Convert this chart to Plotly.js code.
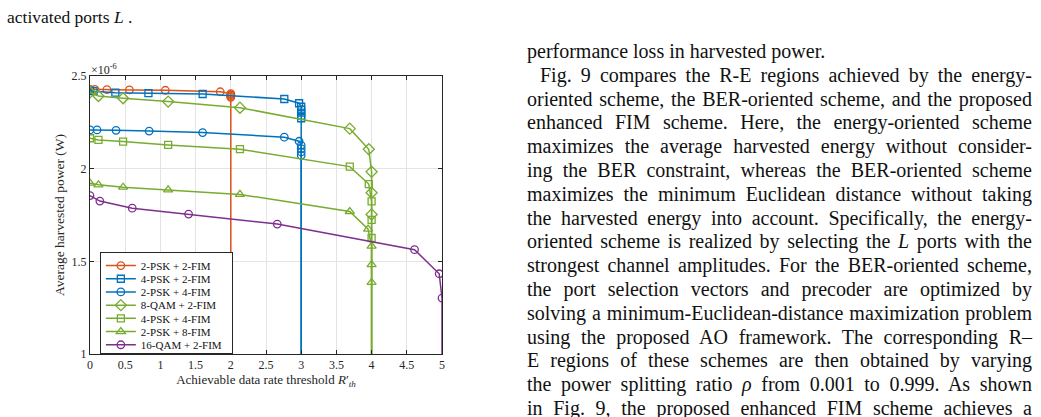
<!DOCTYPE html>
<html><head><meta charset="utf-8">
<script src="https://cdn.plot.ly/plotly-3.0.1.min.js"></script>
<style>
html,body{margin:0;padding:0;background:#fff;width:1041px;height:417px;overflow:hidden;}
#chart{position:absolute;left:0;top:0;width:1041px;height:417px;}
.t{position:absolute;font-family:"Liberation Serif","Times New Roman",serif;font-size:20px;color:#111;white-space:nowrap;line-height:23.8px;}
.c{font-size:17.5px;}
.j{text-align:justify;text-align-last:justify;}
</style></head><body>
<div id="chart"></div>
<div id="txt"></div>
<script>
// ---- data (harvested power in units of 1e-6 W) ----
const seriesNames = ['2-PSK + 2-FIM','4-PSK + 2-FIM','2-PSK + 4-FIM','8-QAM + 2-FIM','4-PSK + 4-FIM','2-PSK + 8-FIM','16-QAM + 2-FIM'];

const x_2psk2fim = [0, 0.07, 0.24, 0.56, 1.07, 1.85, 2.0, 2.0, 2.0, 2.0, 2.0, 2.0];
const y_2psk2fim = [2.428, 2.428, 2.426, 2.425, 2.423, 2.415, 2.405, 2.400, 2.395, 2.390, 2.385, 0];

const x_4psk2fim = [0, 0.05, 0.36, 0.83, 1.6, 2.76, 2.97, 3.0, 3.0, 3.0, 3.0, 3.0, 3.0];
const y_4psk2fim = [2.421, 2.418, 2.410, 2.408, 2.403, 2.376, 2.353, 2.334, 2.318, 2.302, 2.286, 2.272, 0];

const x_2psk4fim = [0, 0.1, 0.37, 0.84, 1.6, 2.76, 2.97, 3.0, 3.0, 3.0, 3.0, 3.0];
const y_2psk4fim = [2.209, 2.209, 2.207, 2.203, 2.195, 2.170, 2.148, 2.126, 2.108, 2.090, 2.072, 0];

const x_8qam2fim = [0, 0.12, 0.47, 1.11, 2.13, 3.69, 3.96, 4.0, 4.0, 4.0, 4.0];
const y_8qam2fim = [2.412, 2.392, 2.380, 2.362, 2.329, 2.216, 2.105, 1.983, 1.870, 1.753, 0];

const x_4psk4fim = [0, 0.12, 0.47, 1.11, 2.13, 3.69, 3.96, 4.0, 4.0, 4.0, 4.0];
const y_4psk4fim = [2.164, 2.155, 2.146, 2.128, 2.105, 2.011, 1.917, 1.823, 1.724, 1.626, 0];

const x_2psk8fim = [0, 0.12, 0.47, 1.11, 2.13, 3.69, 3.95, 4.0, 4.0, 4.0, 4.0];
const y_2psk8fim = [1.922, 1.913, 1.900, 1.886, 1.861, 1.769, 1.674, 1.582, 1.482, 1.386, 0];

const x_16qam2fim = [0, 0.14, 0.6, 1.4, 2.66, 4.61, 4.96, 5.0, 5.0];
const y_16qam2fim = [1.855, 1.825, 1.787, 1.755, 1.701, 1.563, 1.433, 1.302, 0];

const xTickVals = [0, 0.5, 1, 1.5, 2, 2.5, 3, 3.5, 4, 4.5, 5];
const yTickVals = [1, 1.5, 2, 2.5];

// ---- styles ----
const xs = [x_2psk2fim, x_4psk2fim, x_2psk4fim, x_8qam2fim, x_4psk4fim, x_2psk8fim, x_16qam2fim];
const ys = [y_2psk2fim, y_4psk2fim, y_2psk4fim, y_8qam2fim, y_4psk4fim, y_2psk8fim, y_16qam2fim];
const colors = ['#D95319','#0072BD','#0072BD','#77AC30','#77AC30','#77AC30','#7E2F8E'];
const symbols = ['circle-open','square-open','circle-open','diamond-open','square-open','triangle-up-open','circle-open'];
const sizes = [7.5, 7, 7.5, 8.5, 7, 8, 7.5];

const traces = seriesNames.map((n, i) => ({
  type: 'scatter', mode: 'lines+markers', name: n,
  x: xs[i], y: ys[i],
  line: {color: colors[i], width: 1.5},
  marker: {symbol: symbols[i], size: sizes[i], color: colors[i], line: {color: colors[i], width: 1.3}},
  cliponaxis: true
}));

const FONT = '"Liberation Serif", "Times New Roman", serif';
const axisCommon = {
  showgrid: true, gridcolor: '#e4e4e4', gridwidth: 1, zeroline: false,
  showline: true, linecolor: '#262626', linewidth: 1, mirror: 'ticks',
  ticks: 'inside', ticklen: 4, tickcolor: '#262626', tickwidth: 1,
  tickfont: {family: FONT, size: 12, color: '#262626'}, automargin: false
};

const layout = {
  width: 1041, height: 417,
  margin: {l: 90, r: 599, t: 76, b: 63, pad: 0},
  paper_bgcolor: 'rgba(0,0,0,0)', plot_bgcolor: '#ffffff',
  font: {family: FONT, size: 12, color: '#262626'},
  hovermode: false,
  xaxis: Object.assign({}, axisCommon, {
    range: [0, 5], tickvals: xTickVals,
    title: {text: 'Achievable data rate threshold <i>R</i>′<sub><i>th</i></sub>', font: {family: FONT, size: 13, color: '#262626'}, standoff: 2}
  }),
  yaxis: Object.assign({}, axisCommon, {
    range: [1, 2.5], tickvals: yTickVals,
    title: {text: 'Average harvested power (W)', font: {family: FONT, size: 13.5, color: '#262626'}, standoff: 3}
  }),
  legend: {x: 0.028, y: 0.367, xanchor: 'left', yanchor: 'top', bgcolor: '#ffffff',
    bordercolor: '#262626', borderwidth: 1, font: {family: FONT, size: 11, color: '#111'},
    itemwidth: 30, tracegroupgap: 0},
  annotations: [{xref: 'paper', yref: 'paper', x: 0, y: 1, xanchor: 'left', yanchor: 'bottom',
    text: '×10<sup>-6</sup>', showarrow: false, font: {family: FONT, size: 12, color: '#262626'}, yshift: -3, xshift: -1}]
};

// tighten the legend rows to the reference spacing
function compactLegend(gd) {
  const step = 13.2;
  const items = gd.querySelectorAll('.legend .traces');
  let y0 = null;
  items.forEach((g, i) => {
    const m = /translate\(([-\d.e]+)[ ,]+([-\d.e]+)\)/.exec(g.getAttribute('transform') || '');
    if (!m) return;
    const x = parseFloat(m[1]), y = parseFloat(m[2]);
    if (y0 === null) y0 = y - (19 - step) / 2 + 1;
    g.setAttribute('transform', 'translate(' + x + ',' + (y0 + i * step) + ')');
  });
  const bg = gd.querySelector('.legend rect.bg');
  if (bg) {
    bg.setAttribute('height', 101);
    bg.setAttribute('width', 132);
  }
}

Plotly.newPlot('chart', traces, layout, {staticPlot: true, displayModeBar: false}).then(compactLegend);

// ---- surrounding page text ----
const rightLines = [
  ['performance loss in harvested power.', false, 0],
  ['Fig. 9 compares the R-E regions achieved by the energy-', true, 13],
  ['oriented scheme, the BER-oriented scheme, and the proposed', true, 0],
  ['enhanced FIM scheme. Here, the energy-oriented scheme', true, 0],
  ['maximizes the average harvested energy without consider-', true, 0],
  ['ing the BER constraint, whereas the BER-oriented scheme', true, 0],
  ['maximizes the minimum Euclidean distance without taking', true, 0],
  ['the harvested energy into account. Specifically, the energy-', true, 0],
  ['oriented scheme is realized by selecting the <i>L</i> ports with the', true, 0],
  ['strongest channel amplitudes. For the BER-oriented scheme,', true, 0],
  ['the port selection vectors and precoder are optimized by', true, 0],
  ['solving a minimum-Euclidean-distance maximization problem', true, 0],
  ['using the proposed AO framework. The corresponding R–', true, 0],
  ['E regions of these schemes are then obtained by varying', true, 0],
  ['the power splitting ratio <i>ρ</i> from 0.001 to 0.999. As shown', true, 0],
  ['in Fig. 9, the proposed enhanced FIM scheme achieves a', true, 0]
];
const txt = document.getElementById('txt');
function addLine(html, left, top, width, just, cls) {
  const d = document.createElement('div');
  d.className = 't' + (just ? ' j' : '') + (cls ? ' ' + cls : '');
  d.style.left = left + 'px'; d.style.top = top + 'px';
  if (width) d.style.width = width + 'px';
  d.innerHTML = html;
  txt.appendChild(d);
}
addLine('activated ports <i>L</i> .', 7, 6, 0, false, 'c');
rightLines.forEach((l, i) => addLine(l[0], 527 + l[2], 40 + i * 23.8, 505 - l[2], l[1]));
</script>
</body></html>
